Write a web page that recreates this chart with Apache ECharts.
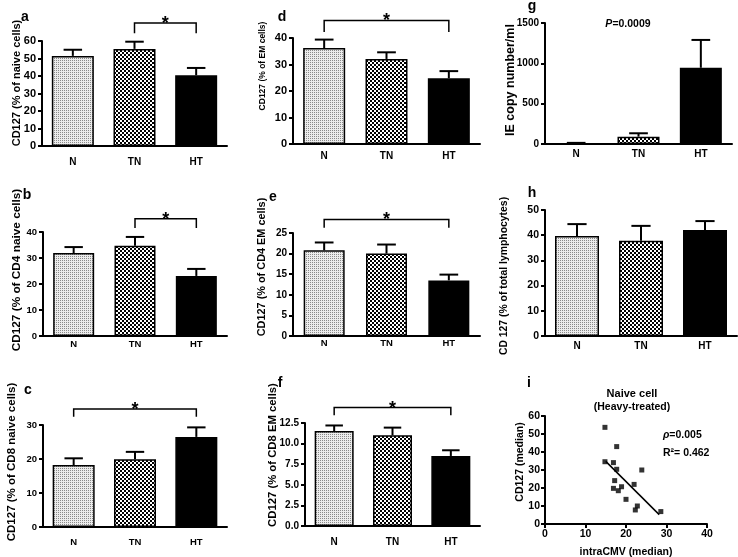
<!DOCTYPE html>
<html><head><meta charset="utf-8">
<script src="https://cdn.jsdelivr.net/npm/echarts@6/dist/echarts.min.js"></script>
<style>html,body{margin:0;padding:0;background:#fff}#c{width:738px;height:557px}</style>
</head><body><div id="c"></div>
<script>
// ---------- DATA ----------
const categories = ['N', 'TN', 'HT'];

const aMean = [51.5, 55.5, 40.4];
const aUpper = [55.0, 59.6, 44.6];
const aBracket = [1, 2, 70.3, 64.4];

const bMean = [31.9, 34.7, 23.1];
const bUpper = [34.2, 38.1, 25.8];
const bBracket = [1, 2, 45.1, 41.5];

const cMean = [18.2, 19.9, 26.5];
const cUpper = [20.2, 22.1, 29.3];
const cBracket = [0, 2, 34.7, 32.4];

const dMean = [36.2, 32.1, 24.8];
const dUpper = [39.4, 34.6, 27.5];
const dBracket = [0, 2, 46.6, 42.3];

const eMean = [20.8, 20.0, 13.5];
const eUpper = [22.7, 22.2, 14.9];
const eBracket = [0, 2, 28.3, 26.3];

const fMean = [11.53, 11.0, 8.5];
const fUpper = [12.2, 11.94, 9.19];
const fBracket = [0, 2, 14.37, 13.43];

const gMean = [8, 91, 945];
const gUpper = [14, 133, 1290];

const hMean = [39.7, 37.8, 42.1];
const hUpper = [44.4, 43.7, 45.6];

const iX = [14.8, 14.8, 17.7, 16.9, 17.7, 17.2, 16.9, 18.9, 18.1, 20.0, 22.0, 23.9, 22.8, 22.3, 28.6];
const iY = [53.7, 34.6, 43.0, 34.1, 30.4, 24.1, 19.8, 20.7, 18.5, 13.7, 22.0, 30.0, 10.0, 7.8, 6.9];
const iFitX = [15.0, 28.2];
const iFitY = [34.8, 5.2];

// ---------- PATTERNS ----------
function patN() {
  const cv = document.createElement('canvas'); cv.width = 2; cv.height = 2;
  const g = cv.getContext('2d');
  g.fillStyle = '#ececec'; g.fillRect(0, 0, 2, 2);
  g.fillStyle = '#8a8a8a'; g.fillRect(0, 0, 1, 1);
  return { image: cv, repeat: 'repeat' };
}
function patTN() {
  const cv = document.createElement('canvas'); cv.width = 4; cv.height = 4;
  const g = cv.getContext('2d');
  g.fillStyle = '#000'; g.fillRect(0, 0, 4, 4);
  g.fillStyle = '#fff'; g.fillRect(0, 0, 2, 2); g.fillRect(2, 2, 2, 2);
  return { image: cv, repeat: 'repeat' };
}
const fills = [patN(), patTN(), '#000'];
const FONT = '"Liberation Sans", Arial, sans-serif';

// ---------- LAYOUT ----------
const panels = [
  { mean: aMean, upper: aUpper, bracket: aBracket, max: 60, interval: 10, grid: { left: 42, top: 41, width: 185, height: 105 }, barW: 42, tf: 11, cf: 10, cm: 11 },
  { mean: bMean, upper: bUpper, bracket: bBracket, max: 40, interval: 10, grid: { left: 43, top: 232, width: 184, height: 104 }, barW: 41, tf: 9.5, cf: 9.5, cm: 3 },
  { mean: cMean, upper: cUpper, bracket: cBracket, max: 30, interval: 10, grid: { left: 43, top: 425, width: 184, height: 102 }, barW: 42, tf: 9.5, cf: 9.5, cm: 10 },
  { mean: dMean, upper: dUpper, bracket: dBracket, max: 40, interval: 10, grid: { left: 293, top: 38, width: 187, height: 106 }, barW: 42, tf: 11, cf: 10, cm: 7 },
  { mean: eMean, upper: eUpper, bracket: eBracket, max: 25, interval: 5, grid: { left: 293, top: 233, width: 187, height: 103 }, barW: 41, tf: 10, cf: 9.5, cm: 2 },
  { mean: fMean, upper: fUpper, bracket: fBracket, max: 12.5, interval: 2.5, dec: 1, grid: { left: 305, top: 423, width: 175, height: 103 }, barW: 39, tf: 10, cf: 10, cm: 11 },
  { mean: gMean, upper: gUpper, bracket: null, max: 1500, interval: 500, grid: { left: 545, top: 23, width: 187, height: 121 }, barW: 42, tf: 10, cf: 10, cm: 5 },
  { mean: hMean, upper: hUpper, bracket: null, max: 50, interval: 10, grid: { left: 545, top: 210, width: 192, height: 126 }, barW: 44, tf: 10.5, cf: 10, cm: 5 }
];

const grids = [], xAxes = [], yAxes = [], series = [];
const axisLine = { show: true, onZero: false, lineStyle: { color: '#000', width: 2 } };

panels.forEach((p, k) => {
  grids.push(Object.assign({ containLabel: false }, p.grid));
  xAxes.push({
    type: 'category', gridIndex: k, data: categories,
    axisLine: axisLine, axisTick: { show: false },
    axisLabel: { color: '#000', fontWeight: 'bold', fontSize: p.cf, fontFamily: FONT, margin: p.cm }
  });
  yAxes.push({
    type: 'value', gridIndex: k, min: 0, max: p.max, interval: p.interval,
    axisLine: axisLine, axisTick: { show: true, length: 4, lineStyle: { color: '#000', width: 2 } },
    splitLine: { show: false },
    axisLabel: {
      color: '#000', fontWeight: 'bold', fontSize: p.tf, fontFamily: FONT, margin: 6,
      formatter: p.dec ? (v => v.toFixed(p.dec)) : (v => String(v))
    }
  });
  series.push({
    type: 'bar', xAxisIndex: k, yAxisIndex: k, barWidth: p.barW,
    data: p.mean.map((v, i) => ({ value: v, itemStyle: { color: fills[i], borderColor: '#000', borderWidth: 1.5 } })),
    silent: true, animation: false
  });
  series.push({
    type: 'custom', xAxisIndex: k, yAxisIndex: k, animation: false, silent: true, z: 3,
    data: p.mean.map((v, i) => [i, v, p.upper[i]]),
    encode: { x: 0, y: [1, 2] },
    renderItem: function (params, api) {
      const x = api.value(0);
      const p0 = api.coord([x, api.value(1)]);
      const p1 = api.coord([x, api.value(2)]);
      const hc = api.size([1, 0])[0] * 0.15;
      return {
        type: 'group', children: [
          { type: 'line', shape: { x1: p0[0], y1: p0[1], x2: p1[0], y2: p1[1] }, style: { stroke: '#000', lineWidth: 2 } },
          { type: 'line', shape: { x1: p1[0] - hc, y1: p1[1], x2: p1[0] + hc, y2: p1[1] }, style: { stroke: '#000', lineWidth: 2 } }
        ]
      };
    }
  });
  if (p.bracket) {
    series.push({
      type: 'custom', xAxisIndex: k, yAxisIndex: k, animation: false, silent: true, clip: false, z: 4,
      data: [p.bracket],
      encode: { x: [0, 1], y: [2, 3] },
      renderItem: function (params, api) {
        const a = api.coord([api.value(0), api.value(2)]);
        const b = api.coord([api.value(1), api.value(2)]);
        const a2 = api.coord([api.value(0), api.value(3)]);
        const b2 = api.coord([api.value(1), api.value(3)]);
        return {
          type: 'group', children: [
            { type: 'polyline', shape: { points: [a2, a, b, b2] }, style: { stroke: '#000', lineWidth: 1.5, fill: null } },
            { type: 'text', x: (a[0] + b[0]) / 2, y: a[1] + 1, style: { text: '*', font: 'bold 18px ' + FONT, fill: '#000', align: 'center', verticalAlign: 'middle' } }
          ]
        };
      }
    });
  }
});

// panel i scatter
const ki = panels.length;
grids.push({ left: 545, top: 416, width: 162, height: 108 });
xAxes.push({
  type: 'value', gridIndex: ki, min: 0, max: 40, interval: 10,
  axisLine: axisLine, axisTick: { show: true, length: 4, lineStyle: { color: '#000', width: 2 } },
  splitLine: { show: false },
  axisLabel: { color: '#000', fontWeight: 'bold', fontSize: 10.5, fontFamily: FONT, margin: 5 }
});
yAxes.push({
  type: 'value', gridIndex: ki, min: 0, max: 60, interval: 10,
  axisLine: axisLine, axisTick: { show: true, length: 4, lineStyle: { color: '#000', width: 2 } },
  splitLine: { show: false },
  axisLabel: { color: '#000', fontWeight: 'bold', fontSize: 10.5, fontFamily: FONT, margin: 5 }
});
series.push({
  type: 'line', xAxisIndex: ki, yAxisIndex: ki, data: iFitX.map((x, j) => [x, iFitY[j]]),
  symbol: 'none', lineStyle: { color: '#000', width: 1.5 }, animation: false, silent: true
});
series.push({
  type: 'scatter', xAxisIndex: ki, yAxisIndex: ki, data: iX.map((x, j) => [x, iY[j]]),
  symbol: 'rect', symbolSize: 5, itemStyle: { color: '#000' }, animation: false, silent: true
});

// ---------- TEXT ----------
function letter(t, x, y) {
  return { type: 'text', x: x, y: y, style: { text: t, font: 'bold 14px ' + FONT, fill: '#000', align: 'center', verticalAlign: 'middle' } };
}
function ytitle(t, x, y, size) {
  return { type: 'text', x: x, y: y, rotation: Math.PI / 2, style: { text: t, font: 'bold ' + size + 'px ' + FONT, fill: '#000', align: 'center', verticalAlign: 'middle' } };
}
function label(t, x, y, size, align, rich) {
  return { type: 'text', x: x, y: y, style: { text: t, font: 'bold ' + size + 'px ' + FONT, fill: '#000', align: align || 'center', verticalAlign: 'middle', rich: rich } };
}
const italic = { i: { fontStyle: 'italic', fontWeight: 'bold', fontSize: 10.5, fontFamily: FONT, fill: '#000' } };

const graphic = [
  letter('a', 25, 17), letter('b', 27, 195), letter('c', 28, 390),
  letter('d', 282, 17), letter('e', 273, 197), letter('f', 280, 383),
  letter('g', 532, 6), letter('h', 532, 193), letter('i', 529, 383),
  ytitle('CD127 (% of naive cells)', 16.5, 83, 11),
  ytitle('CD127 (% of CD4 naive cells)', 16.5, 270, 11.8),
  ytitle('CD127 (% of CD8 naive cells)', 11.5, 462, 11.5),
  ytitle('CD127 (% of EM cells)', 263, 66, 8.5),
  ytitle('CD127 (% of CD4 EM cells)', 262, 267, 10.9),
  ytitle('CD127 (% of CD8 EM cells)', 272.5, 455, 11.3),
  ytitle('IE copy number/ml', 511, 80, 12.5),
  ytitle('CD 127 (% of total lymphocytes)', 504, 276, 10.4),
  ytitle('CD127 (median)', 520, 462, 10.5),
  label('intraCMV (median)', 626, 552, 10.5),
  label('Naive cell', 632, 394, 11),
  label('(Heavy-treated)', 632, 407, 10.5),
  label('{i|P}=0.0009', 628, 24, 10.5, 'center', italic),
  label('{i|\u03c1}=0.005', 663, 435, 10.5, 'left', italic),
  label('R\u00b2= 0.462', 663, 453, 10.5, 'left')
];

const chart = echarts.init(document.getElementById('c'), null, { renderer: 'canvas' });
chart.setOption({
  animation: false,
  backgroundColor: '#fff',
  grid: grids, xAxis: xAxes, yAxis: yAxes, series: series, graphic: graphic
});
</script>
</body></html>
